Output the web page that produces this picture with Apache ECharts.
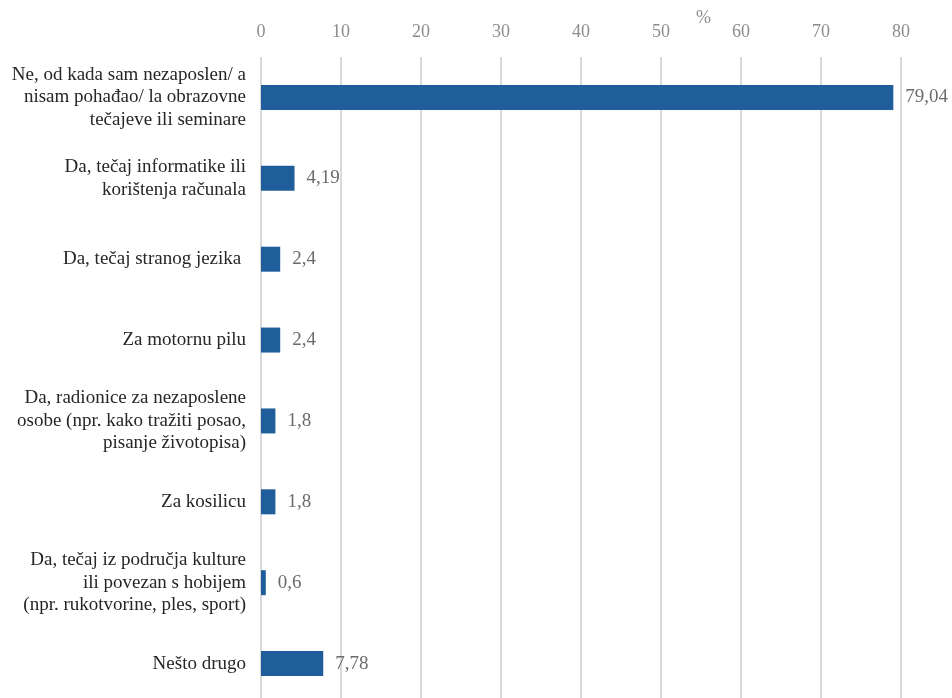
<!DOCTYPE html>
<html>
<head>
<meta charset="utf-8">
<script src="https://cdn.jsdelivr.net/npm/echarts@6/dist/echarts.min.js"></script>
<style>
  html, body { margin: 0; padding: 0; background: #fff; }
  #chart { width: 952px; height: 698px; }
</style>
</head>
<body>
<div id="chart"></div>
<script>
// Answer categories (top to bottom) and their shares in percent
const categories = [
  'Ne, od kada sam nezaposlen/ a\nnisam pohađao/ la obrazovne\ntečajeve ili seminare',
  'Da, tečaj informatike ili\nkorištenja računala',
  'Da, tečaj stranog jezika ',
  'Za motornu pilu',
  'Da, radionice za nezaposlene\nosobe (npr. kako tražiti posao,\npisanje životopisa)',
  'Za kosilicu',
  'Da, tečaj iz područja kulture\nili povezan s hobijem\n(npr. rukotvorine, ples, sport)',
  'Nešto drugo'
];
const values = [79.04, 4.19, 2.4, 2.4, 1.8, 1.8, 0.6, 7.78];
const axisTicks = [0, 10, 20, 30, 40, 50, 60, 70, 80];

const serif = '"Liberation Serif", "DejaVu Serif", serif';
const chart = echarts.init(document.getElementById('chart'));

chart.setOption({
  animation: false,
  backgroundColor: '#ffffff',
  // the plot runs a few pixels past the bottom edge of the canvas
  grid: {
    left: 261, width: 640, top: 57, height: 647,
    containLabel: false,
    outerBoundsMode: 'none'
  },
  xAxis: {
    type: 'value',
    position: 'top',
    min: axisTicks[0],
    max: axisTicks[axisTicks.length - 1],
    interval: 10,
    axisLine: { show: false },
    axisTick: { show: false },
    axisLabel: {
      margin: 16,
      color: '#8c8c8c',
      fontFamily: serif,
      fontSize: 18
    },
    splitLine: { show: true, lineStyle: { color: '#d9d9d9', width: 2 } }
  },
  yAxis: {
    type: 'category',
    inverse: true,
    data: categories,
    axisLine: { show: false },
    axisTick: { show: false },
    axisLabel: {
      margin: 15,
      color: '#262626',
      fontFamily: serif,
      fontSize: 19,
      lineHeight: 22.5,
      align: 'right'
    },
    splitLine: { show: false }
  },
  graphic: [{
    type: 'text',
    left: 696,
    top: 9,
    style: { text: '%', fill: '#8c8c8c', font: '18px ' + serif }
  }],
  series: [{
    type: 'bar',
    data: values,
    barWidth: 25,
    itemStyle: { color: '#1f5d9b' },
    label: {
      show: true,
      position: 'right',
      distance: 12,
      color: '#6b6b6b',
      fontFamily: serif,
      fontSize: 19,
      formatter: p => String(p.value).replace('.', ',')
    }
  }]
});
</script>
</body>
</html>
